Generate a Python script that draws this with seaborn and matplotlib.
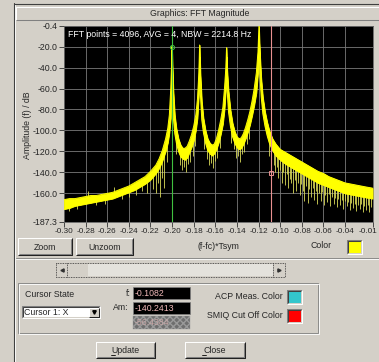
import numpy as np
import matplotlib
matplotlib.use('Agg')
import matplotlib.pyplot as plt
import matplotlib.transforms as mtransforms
import seaborn as sns
from matplotlib.patches import Rectangle

# band of the averaged spectrum: (f-fc)*Tsym, upper / lower edge in dB
freq = [-0.3000, -0.2950, -0.2900, -0.2850, -0.2800, -0.2750, -0.2700, -0.2650, -0.2600,
        -0.2550, -0.2500, -0.2450, -0.2400, -0.2350, -0.2300, -0.2250, -0.2200, -0.2150,
        -0.2120, -0.2090, -0.2060, -0.2040, -0.2025, -0.2012, -0.2004, -0.2001,
        -0.1996, -0.1988, -0.1975, -0.1960, -0.1940, -0.1920, -0.1900, -0.1880, -0.1860,
        -0.1840, -0.1820, -0.1800, -0.1780, -0.1765, -0.1752, -0.1745, -0.1738, -0.1725,
        -0.1710, -0.1690, -0.1670, -0.1650, -0.1630, -0.1610, -0.1590, -0.1570, -0.1550,
        -0.1530, -0.1515, -0.1502, -0.1496, -0.1490, -0.1478, -0.1460, -0.1440, -0.1420,
        -0.1400, -0.1380, -0.1360, -0.1340, -0.1320, -0.1300, -0.1280, -0.1260, -0.1240,
        -0.1220, -0.1205, -0.1196, -0.1188, -0.1175, -0.1160, -0.1140, -0.1120, -0.1100,
        -0.1070, -0.1040, -0.1000, -0.0950, -0.0900, -0.0850, -0.0800, -0.0750, -0.0700,
        -0.0650, -0.0600, -0.0550, -0.0500, -0.0450, -0.0400, -0.0350, -0.0300, -0.0250,
        -0.0200, -0.0145]
band_hi = [-166, -165, -165, -164, -163, -162, -162, -161, -160,
           -159, -157, -155, -153, -150, -147, -144, -139, -133,
           -127, -119, -108, -98, -85, -60, -35, -20,
           -38, -62, -85, -98, -108, -114, -117, -117, -115,
           -110, -104, -96, -85, -70, -45, -18.5, -45, -72,
           -88, -100, -108, -112, -114, -113, -108, -100, -90,
           -78, -60, -40, -21, -42, -62, -80, -93, -101,
           -106, -108, -107, -103, -97, -90, -82, -72, -60,
           -45, -25, -0.4, -25, -50, -68, -82, -92, -100,
           -108, -113, -118, -121, -124, -127, -130, -133, -136,
           -139, -141, -144, -146, -148, -150, -151, -152, -153,
           -154, -155]
band_lo = [-175, -174, -172, -171, -170, -169, -168, -167, -166,
           -165, -163, -161, -159, -157, -154, -151, -147, -141,
           -136, -129, -120, -112, -102, -88, -55, -30,
           -58, -88, -103, -112, -120, -125, -127, -128, -126,
           -121, -116, -110, -100, -88, -65, -30, -65, -90,
           -102, -112, -119, -122, -124, -122, -118, -112, -104,
           -94, -80, -60, -30, -62, -82, -96, -106, -112,
           -116, -118, -117, -113, -108, -102, -95, -86, -76,
           -64, -45, -10, -45, -68, -84, -96, -105, -112,
           -119, -124, -128, -132, -135, -138, -141, -144, -147,
           -150, -152, -154, -156, -158, -160, -161, -162, -163,
           -164, -165]

# single-bin dips (and a few overshoots) of the trace
spike_f = [-0.2950, -0.2880, -0.2780, -0.2700, -0.2620, -0.2540, -0.2460, -0.2400, -0.2330,
           -0.2280, -0.2230, -0.2180, -0.2150, -0.2130, -0.2110, -0.2090, -0.2070, -0.2050,
           -0.1960, -0.1930, -0.1905, -0.1885, -0.1870, -0.1850, -0.1830, -0.1810, -0.1790,
           -0.1700, -0.1680, -0.1660, -0.1640, -0.1620, -0.1600, -0.1580, -0.1560,
           -0.1450, -0.1430, -0.1410, -0.1390, -0.1370, -0.1350, -0.1330, -0.1310, -0.1290,
           -0.1100, -0.1082, -0.1060, -0.1045, -0.1030, -0.1015, -0.1000, -0.0985, -0.0970,
           -0.0955, -0.0940, -0.0925, -0.0910, -0.0895, -0.0880, -0.0865, -0.0850, -0.0835,
           -0.0820, -0.0805, -0.0790, -0.0775, -0.0760, -0.0745, -0.0730, -0.0715, -0.0700,
           -0.0685, -0.0670, -0.0655, -0.0640, -0.0625, -0.0610, -0.0595, -0.0580, -0.0565,
           -0.0550, -0.0535, -0.0520, -0.0505, -0.0490, -0.0475, -0.0460, -0.0445, -0.0430,
           -0.0415, -0.0400, -0.0385, -0.0370, -0.0355, -0.0340, -0.0325, -0.0310, -0.0295,
           -0.0280, -0.0265, -0.0250, -0.0235, -0.0220, -0.0205, -0.0190, -0.0175, -0.0160]
spike_top = [-173, -170, -158, -166, -165, -154, -159, -157, -154,
             -151, -148, -143, -139, -135, -132, -127, -122, -115,
             -110, -120, -124, -126, -125, -122, -117, -111, -104,
             -106, -114, -119, -121, -121, -118, -113, -106,
             -99, -107, -112, -115, -115, -113, -109, -103, -97,
             -110, -114, -118, -121, -123, -125, -126, -128, -129,
             -130, -131, -132, -133, -134, -135, -135, -136, -137,
             -138, -139, -140, -140, -141, -142, -143, -144, -145,
             -146, -147, -147, -148, -149, -150, -150, -151, -152,
             -152, -153, -154, -154, -155, -155, -156, -156, -157,
             -157, -158, -158, -159, -159, -160, -160, -161, -161,
             -161, -162, -162, -162, -163, -163, -163, -164, -164]
spike_bot = [-177, -175, -166, -171, -170, -162, -165, -163, -162,
             -158, -160, -156, -160, -150, -163, -145, -155, -130,
             -122, -133, -138, -135, -140, -132, -130, -124, -115,
             -118, -127, -133, -131, -136, -129, -126, -117,
             -112, -118, -126, -124, -130, -122, -121, -113, -108,
             -124, -140, -133, -140, -135, -145, -138, -150, -140,
             -152, -142, -155, -146, -150, -160, -147, -158, -150,
             -162, -151, -158, -167, -153, -169, -156, -163, -155,
             -166, -158, -170, -160, -167, -159, -171, -162, -168,
             -161, -172, -163, -170, -164, -173, -165, -171, -166,
             -175, -167, -172, -168, -176, -169, -174, -170, -177,
             -171, -175, -170, -178, -172, -176, -171, -178, -173]

xticks = [-0.30, -0.28, -0.26, -0.24, -0.22, -0.20, -0.18, -0.16, -0.14,
          -0.12, -0.10, -0.08, -0.06, -0.04, -0.0145]
xticklabels = ['-0.30', '-0.28', '-0.26', '-0.24', '-0.22', '-0.20', '-0.18', '-0.16', '-0.14',
               '-0.12', '-0.10', '-0.08', '-0.06', '-0.04', '-0.01']
yticks = [-0.4, -20, -40, -60, -80, -100, -120, -140, -160, -187.3]
yticklabels = ['-0.4', '-20.0', '-40.0', '-60.0', '-80.0', '-100.0', '-120.0', '-140.0',
               '-160.0', '-187.3']

cursor_f = [-0.2001, -0.1082]
cursor_am = [-20.0, -140.2413]
readout = ['-0.1082', '-140.2413', '-56.4384']

GREY = '#d4d0c8'
FS = 6.3

sns.set_style('dark')
plt.rcParams['font.family'] = ['Liberation Sans', 'DejaVu Sans']

fig = plt.figure(figsize=(3.79, 3.62), dpi=100)
fig.patch.set_facecolor(GREY)

# dialog drawn in pixel coordinates, y going down
bg = fig.add_axes([0, 0, 1, 1])
bg.set_xlim(0, 379)
bg.set_ylim(362, 0)
bg.axis('off')


def edge(x, y, w, h, light, dark, fc=None, lw=0.75):
    if fc is not None:
        bg.add_patch(Rectangle((x, y), w, h, fc=fc, ec='none'))
    bg.plot([x, x, x + w], [y + h, y, y], color=light, lw=lw, solid_capstyle='butt')
    bg.plot([x, x + w, x + w], [y + h, y + h, y], color=dark, lw=lw, solid_capstyle='butt')


def button(x, y, w, h, label, under=None):
    edge(x, y, w, h, 'white', '#202020', fc=GREY)
    edge(x + 1, y + 1, w - 2, h - 2, GREY, '#808080')
    t = bg.text(x + w / 2, y + h / 2 + 0.5, label, ha='center', va='center', fontsize=FS)
    if under:
        bg.plot(under, [y + h / 2 + 4.5] * 2, color='black', lw=0.6)
    return t


def sunken(x, y, w, h, fc):
    edge(x, y, w, h, '#808080', 'white', fc=fc)
    edge(x + 1, y + 1, w - 2, h - 2, '#404040', GREY)


# window frame and title strip
bg.plot([13.5, 13.5], [3, 362], color='#404040', lw=0.8)
bg.plot([15, 15], [4, 362], color='white', lw=0.6)
bg.plot([13.5, 379], [3.5, 3.5], color='#404040', lw=0.8)
edge(16, 7, 370, 13, 'white', '#808080')
bg.text(200, 13.8, 'Graphics: FFT Magnitude', ha='center', va='center', fontsize=FS)

# axis captions and the buttons under the plot
bg.text(28, 125, 'Amplitude (f) / dB', rotation=90, ha='center', va='center', fontsize=FS)
button(18, 238, 54, 17, 'Zoom')
button(76, 238, 57, 17, 'Unzoom')
bg.text(218, 246.5, '(f-fc)*Tsym', ha='center', va='center', fontsize=FS)
bg.text(321, 246, 'Color', ha='center', va='center', fontsize=FS)
sunken(347, 240, 15, 14, '#ffff00')

# separator and scroll bar
bg.plot([16, 379], [257.5, 257.5], color='#808080', lw=0.6)
bg.plot([16, 379], [258.5, 258.5], color='white', lw=0.6)
bg.add_patch(Rectangle((67, 264), 206, 12, fc='#e4e2dc', ec='none'))
bg.add_patch(Rectangle((67, 264), 21, 12, fc=GREY, ec='none'))
bg.add_patch(Rectangle((56, 263), 229, 14, fill=False, ec='#303030', lw=0.6, ls=(0, (1, 1))))
bg.plot([67, 67], [263, 277], color='#303030', lw=0.6, ls=(0, (1, 1)))
bg.plot([273, 273], [263, 277], color='#303030', lw=0.6, ls=(0, (1, 1)))
bg.plot([61.5], [270], marker='<', ms=2.3, color='#303030')
bg.plot([279], [270], marker='>', ms=2.3, color='#303030')

# cursor group
bg.add_patch(Rectangle((18, 283), 300, 50, fill=False, ec='#808080', lw=0.6))
bg.add_patch(Rectangle((19, 284), 300, 50, fill=False, ec='white', lw=0.6))
bg.text(50, 294.5, 'Cursor State', ha='center', va='center', fontsize=FS)
sunken(22, 306, 78, 12, 'white')
bg.text(24.5, 312.3, 'Cursor 1: X', ha='left', va='center', fontsize=FS)
edge(89, 307.5, 9.5, 9, 'white', '#202020', fc=GREY)
bg.plot([93.8], [312], marker='v', ms=2.5, color='black')

bg.text(130.5, 293, 'f:', ha='right', va='center', fontsize=FS)
bg.text(128, 307.5, 'Am:', ha='right', va='center', fontsize=FS)
for i, y0 in enumerate([287, 302]):
    bg.add_patch(Rectangle((133, y0), 57, 12, fc='black', ec='#808080', lw=0.5))
    bg.text(135, y0 + 6.3, readout[i], ha='left', va='center', fontsize=FS, color='#f0b8b8')
bg.add_patch(Rectangle((133, 316), 57, 13, fc='#6e6e6e', ec='#9a9a9a', hatch='xxxxx', lw=0.3))
bg.text(135, 322.8, readout[2], ha='left', va='center', fontsize=FS, color='#c8a8a8')

bg.text(283, 296.5, 'ACP Meas. Color', ha='right', va='center', fontsize=FS)
sunken(287, 290, 15, 13.5, '#33c6cc')
bg.text(283, 315.5, 'SMIQ Cut Off Color', ha='right', va='center', fontsize=FS)
sunken(287, 309, 15, 14, '#ff0000')

button(96, 342, 59, 16, 'Update', under=[110.5, 114.5])
button(185, 342, 60, 16, 'Close', under=[202, 206])

# the spectrum plot
ax = fig.add_axes([64 / 379, 140 / 362, 308.5 / 379, 196 / 362])
ax.set_facecolor('black')
ax.vlines(spike_f, spike_bot, spike_top, color='#dcdc5a', lw=0.6, zorder=2)
ax.fill_between(freq, band_lo, band_hi, color='#ffff00', lw=0.6, zorder=3)
sns.lineplot(x=freq, y=band_hi, ax=ax, color='#ffff00', lw=0.7, sort=False, zorder=3)
sns.lineplot(x=freq, y=band_lo, ax=ax, color='#ffff00', lw=0.7, sort=False, zorder=3)

ax.axvline(cursor_f[0], color='#40c040', lw=0.8, zorder=4)
ax.plot(cursor_f[0], cursor_am[0], marker='o', ms=3, mfc='none', mec='#40c040', mew=0.7, zorder=5)
ax.axvline(cursor_f[1], color='#e89090', lw=0.8, zorder=4)
ax.plot(cursor_f[1], cursor_am[1], marker='s', ms=2.6, mfc='none', mec='#e89090', mew=0.7, zorder=5)

ax.text(0.012, 0.982, 'FFT points = 4096, AVG = 4, NBW = 2214.8 Hz', transform=ax.transAxes,
        color='white', ha='left', va='top', fontsize=FS, zorder=6)

ax.set_xlim(-0.30, -0.0145)
ax.set_ylim(-187.3, -0.4)
ax.set_xticks(xticks)
ax.set_xticklabels(xticklabels)
ax.set_yticks(yticks)
ax.set_yticklabels(yticklabels)
ax.grid(True, color='#7a7a7a', lw=0.6)
ax.set_axisbelow(True)
ax.tick_params(direction='out', length=3.5, width=0.6, color='#303030', labelsize=FS, pad=1,
               bottom=True, left=True)
ax.tick_params(axis='x', labelsize=5.9)
# last label sits at the window edge: right-align it, nudged a few pixels out
last = ax.get_xticklabels()[-1]
last.set_horizontalalignment('right')
last.set_transform(last.get_transform() +
                   mtransforms.ScaledTranslation(5 / 100, 0, fig.dpi_scale_trans))
for s in ax.spines.values():
    s.set_color('#606060')
    s.set_linewidth(0.6)
ax.set_xlabel('')
ax.set_ylabel('')

fig.savefig('out.png', dpi=100, facecolor=GREY)
